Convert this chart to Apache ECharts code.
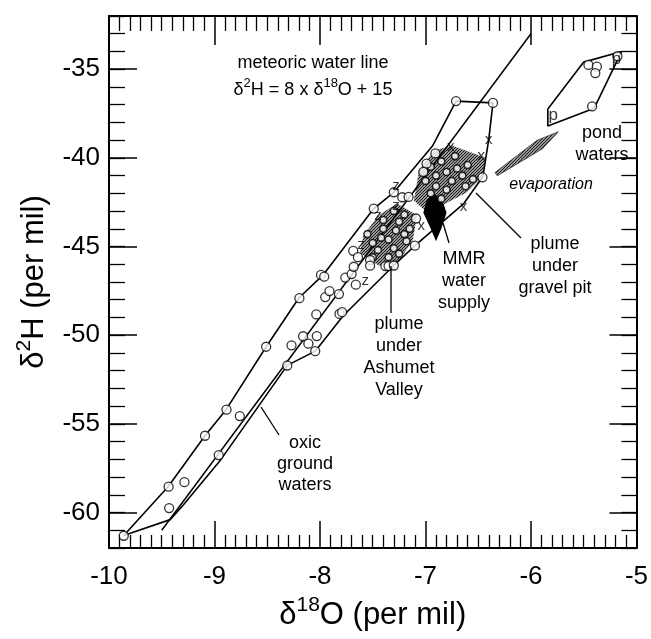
<!DOCTYPE html>
<html><head><meta charset="utf-8">
<script src="https://cdn.jsdelivr.net/npm/echarts@6/dist/echarts.min.js"></script>
<style>html,body{margin:0;padding:0;background:#fff}#c{width:651px;height:639px}</style>
</head><body><div id="c"></div>
<script>
// ---------- data (delta18O / delta2H in per mil) ----------
const xTicks = [-10, -9, -8, -7, -6, -5];
const yTicks = [-60, -55, -50, -45, -40, -35];

// meteoric water line  d2H = 8 x d18O + 15  (drawn segment end points)
const mwlX = [-9.5, -6.0];
const mwlY = [-61, -33];

// outline of the "oxic ground waters" field
const oxicField = [
  [-9.86,-61.3],[-9.44,-58.55],[-9.09,-55.67],[-8.89,-54.2],[-8.51,-50.65],[-8.20,-47.9],
  [-7.97,-46.6],[-7.49,-42.86],[-7.30,-41.94],[-6.93,-39.3],[-6.71,-36.8],[-6.36,-36.9],
  [-6.40,-38.96],[-6.455,-41.05],[-6.64,-42.6],[-7.10,-44.95],[-7.30,-46.07],[-7.78,-48.9],
  [-8.045,-50.9],[-8.31,-51.7],[-8.95,-57.1],[-9.30,-59.6],[-9.42,-60.4],[-9.86,-61.3]
];
// outline of the "pond waters" field
const pondField = [[-5.84,-37.25],[-5.50,-34.6],[-5.14,-34.0],[-5.40,-37.2],[-5.84,-38.2],[-5.84,-37.25]];

// shaded plume fields
const gravelPitField = [[-6.92,-39.6],[-6.75,-39.3],[-6.43,-40.0],[-6.455,-41.05],[-6.61,-41.95],[-6.80,-42.55],[-6.98,-43.1],[-7.11,-42.4],[-7.06,-40.7]];
const ashumetField = [[-7.27,-42.57],[-7.08,-43.23],[-7.12,-44.64],[-7.26,-45.88],[-7.445,-46.07],[-7.62,-45.36],[-7.59,-44.4],[-7.45,-43.26]];
const mmrField = [[-6.92,-42.0],[-6.84,-42.4],[-6.80,-43.1],[-6.85,-44.0],[-6.90,-44.7],[-6.95,-44.0],[-7.02,-43.1],[-6.99,-42.4]];

// evaporation trend (arrow start -> end)
const evapX = [-6.33, -5.74];
const evapY = [-40.92, -38.53];

// oxic ground water samples (open circles)
const oxicSamples = [
  [-9.86,-61.31],[-9.435,-58.54],[-9.285,-58.29],[-9.43,-59.75],[-9.09,-55.67],[-8.96,-56.76],
  [-8.886,-54.2],[-8.76,-54.56],[-8.51,-50.65],[-8.27,-50.57],[-8.31,-51.71],[-8.16,-50.06],
  [-8.11,-50.48],[-8.03,-50.05],[-8.045,-50.9],[-8.035,-48.83],[-8.195,-47.91],[-7.95,-47.85],
  [-7.91,-47.51],[-7.82,-47.68],[-7.815,-48.8],[-7.79,-48.7],[-7.99,-46.6],[-7.96,-46.7],
  [-7.76,-46.75],[-7.70,-46.55],[-7.68,-46.14],[-7.66,-47.15],[-7.685,-45.24],[-7.64,-45.6],
  [-7.525,-45.76],[-7.525,-46.08],[-7.38,-46.1],[-7.35,-46.1],[-7.30,-46.07],[-7.49,-42.86],
  [-7.30,-41.94],[-7.22,-42.22],[-7.16,-42.2],[-7.10,-44.95],[-7.09,-43.42],[-6.71,-36.8],
  [-6.36,-36.9],[-6.906,-39.75],[-6.99,-40.32],[-7.02,-40.79],[-6.46,-41.1]
];
// samples inside the plume clusters (estimated)
const plumeSamples = [
  [-7.55,-44.3],[-7.5,-44.8],[-7.45,-45.2],[-7.4,-44.0],[-7.35,-44.6],[-7.3,-45.1],[-7.25,-43.6],
  [-7.2,-44.3],[-7.4,-43.5],[-7.3,-43.0],[-7.2,-43.2],[-7.15,-44.0],[-7.35,-45.6],[-7.5,-45.6],
  [-7.28,-44.1],[-7.42,-44.5],[-7.18,-44.7],[-7.25,-45.4],
  [-6.95,-40.5],[-6.9,-41.0],[-6.85,-40.2],[-6.8,-40.8],[-6.75,-41.3],[-6.7,-40.6],[-6.65,-41.0],
  [-6.6,-40.4],[-6.55,-41.2],[-6.8,-41.8],[-6.9,-41.6],[-7.0,-41.3],[-6.72,-39.9],[-6.62,-41.6],
  [-6.95,-42.0],[-6.85,-42.3]
];
// pond water samples
const pondSamples = [[-5.18,-34.27],[-5.455,-34.76],[-5.375,-34.85],[-5.39,-35.22],[-5.42,-37.1]];
// letter-coded samples
const xSamples = [[-6.40,-38.96],[-6.47,-39.9],[-6.76,-39.37],[-6.64,-42.76],[-7.04,-43.85]];
const zSamples = [[-7.28,-41.57],[-7.28,-42.72],[-7.45,-43.26],[-7.61,-44.93],[-7.57,-46.95]];
const pSamples = [[-5.79,-37.6],[-5.19,-34.45]];

// ---------- rendering ----------
const FONT = 'Liberation Sans, Arial, Helvetica, sans-serif';
function hatchCanvas(color, gap, lw) {
  const c = document.createElement('canvas');
  c.width = gap; c.height = gap;
  const g = c.getContext('2d');
  g.strokeStyle = color; g.lineWidth = lw;
  g.beginPath();
  g.moveTo(0, gap); g.lineTo(gap, 0);
  g.moveTo(-1, 1); g.lineTo(1, -1);
  g.moveTo(gap - 1, gap + 1); g.lineTo(gap + 1, gap - 1);
  g.stroke();
  return c;
}
const hatchGray = { image: hatchCanvas('#1a1a1a', 3, 1.3), repeat: 'repeat' };
const hatchDark = { image: hatchCanvas('#000', 2, 1.6), repeat: 'repeat' };

function fieldSeries(pts, fill, z) {
  return {
    type: 'custom', coordinateSystem: 'cartesian2d', silent: true, z: z,
    data: [pts[0]],
    renderItem: (params, api) => ({
      type: 'polygon',
      shape: { points: pts.map(p => api.coord(p)) },
      style: { fill: fill, stroke: null }
    })
  };
}
function lineSeries(pts, width) {
  return { type: 'line', data: pts, symbol: 'none', silent: true, z: 4,
           lineStyle: { color: '#000', width: width } };
}
function letterSeries(pts, letter, size) {
  return { type: 'scatter', data: pts, symbol: 'circle', symbolSize: 1, z: 6, silent: true,
           itemStyle: { color: 'rgba(0,0,0,0)' },
           label: { show: true, position: 'inside', formatter: letter, fontSize: size,
                    fontFamily: FONT, color: '#000' } };
}
function circleSeries(pts, size, z, bw) {
  return { type: 'scatter', data: pts, symbol: 'circle', symbolSize: size, z: z, silent: true,
           itemStyle: { color: '#fff', borderColor: '#000', borderWidth: bw } };
}

const evapSeries = {
  type: 'custom', coordinateSystem: 'cartesian2d', silent: true, z: 3,
  data: [[evapX[0], evapY[0]]],
  renderItem: (params, api) => {
    const a = api.coord([evapX[0], evapY[0]]);
    const b = api.coord([evapX[1], evapY[1]]);
    const dx = b[0] - a[0], dy = b[1] - a[1];
    const L = Math.hypot(dx, dy), nx = -dy / L, ny = dx / L;
    const m = [a[0] + dx * 0.7, a[1] + dy * 0.7];
    const pts = [
      [a[0] + nx * 2, a[1] + ny * 2], [m[0] + nx * 5, m[1] + ny * 5], b,
      [m[0] - nx * 5, m[1] - ny * 5], [a[0] - nx * 2, a[1] - ny * 2]
    ];
    return { type: 'polygon', shape: { points: pts }, style: { fill: hatchGray, stroke: '#333', lineWidth: 0.8 } };
  }
};

const axLine = { show: true, lineStyle: { color: '#000', width: 2 } };
function xAx(pos, showLabel, major, minor) {
  return {
    type: 'value', position: pos, min: -10, max: -5, interval: 1,
    axisLine: axLine, splitLine: { show: false },
    axisTick: { show: true, inside: true, length: major, lineStyle: { color: '#000', width: 1.5 } },
    minorTick: { show: true, splitNumber: 10, length: minor, lineStyle: { color: '#000', width: 1.3 } },
    axisLabel: { show: showLabel, fontSize: 26, fontFamily: FONT, color: '#000', margin: 16 },
    name: showLabel ? '{a|δ}{s|18}{a|O (per mil)}' : '',
    nameLocation: 'middle', nameGap: 37,
    nameTextStyle: { color: '#000', fontFamily: FONT,
      rich: { a: { fontSize: 31, lineHeight: 36, verticalAlign: 'bottom', fontFamily: FONT, color: '#000' },
              s: { fontSize: 21, lineHeight: 20, verticalAlign: 'top', fontFamily: FONT, color: '#000' } } }
  };
}
function yMajor(pos, showLabel, len) {
  return {
    type: 'value', position: pos, min: -62, max: -32,
    axisLine: axLine, splitLine: { show: false },
    axisTick: { show: true, inside: true, length: len, customValues: yTicks, lineStyle: { color: '#000', width: 1.5 } },
    axisLabel: { show: showLabel, customValues: yTicks, fontSize: 26, fontFamily: FONT, color: '#000', margin: 9 },
    name: showLabel ? '{a|δ}{s|2}{a|H (per mil)}' : '',
    nameLocation: 'middle', nameGap: 59,
    nameTextStyle: { color: '#000', fontFamily: FONT,
      rich: { a: { fontSize: 31, lineHeight: 36, verticalAlign: 'bottom', fontFamily: FONT, color: '#000' },
              s: { fontSize: 21, lineHeight: 20, verticalAlign: 'top', fontFamily: FONT, color: '#000' } } }
  };
}
function yMinor(pos, len) {
  return {
    type: 'value', position: pos, min: -62, max: -32, interval: 1,
    axisLine: { show: false }, splitLine: { show: false }, axisLabel: { show: false },
    axisTick: { show: true, inside: true, length: len, lineStyle: { color: '#000', width: 1.3 } }
  };
}

function txt(x, y, text, size, extra) {
  return Object.assign({ type: 'text', x: x, y: y, silent: true, z: 10,
    style: Object.assign({ text: text, fontSize: size, fontFamily: FONT, fill: '#000',
                           align: 'center', verticalAlign: 'middle' }, extra || {}) });
}
function seg(x1, y1, x2, y2) {
  return { type: 'line', silent: true, z: 10, shape: { x1, y1, x2, y2 }, style: { stroke: '#000', lineWidth: 1.3 } };
}

const option = {
  animation: false,
  backgroundColor: '#fff',
  grid: { left: 109, right: 13, top: 16, bottom: 91, containLabel: false },
  xAxis: [xAx('bottom', true, 27, 13), xAx('top', false, 29, 15)],
  yAxis: [yMajor('left', true, 28), yMinor('left', 16), yMajor('right', false, 27), yMinor('right', 15)],
  series: [
    fieldSeries(ashumetField, hatchGray, 1),
    fieldSeries(gravelPitField, hatchGray, 1),
    fieldSeries(mmrField, hatchDark, 2),
    evapSeries,
    lineSeries(mwlX.map((x, i) => [x, mwlY[i]]), 1.5),
    lineSeries(oxicField, 1.6),
    lineSeries(pondField, 1.6),
    circleSeries(plumeSamples, 7, 5, 1.6),
    circleSeries(oxicSamples, 9, 6, 1.3),
    circleSeries(pondSamples, 9, 6, 1.3),
    letterSeries(xSamples, 'x', 15),
    letterSeries(zSamples, 'z', 15),
    letterSeries(pSamples, 'p', 17)
  ],
  graphic: [
    txt(313, 63, 'meteoric water line', 18),
    { type: 'text', x: 313, y: 88, silent: true, z: 10,
      style: { text: '{a|δ}{s|2}{a|H = 8 x δ}{s|18}{a|O + 15}', align: 'center', verticalAlign: 'middle',
               rich: { a: { fontSize: 18, lineHeight: 22, verticalAlign: 'bottom', fontFamily: FONT, fill: '#000' },
                       s: { fontSize: 13, lineHeight: 13, verticalAlign: 'top', fontFamily: FONT, fill: '#000' } } } },
    txt(602, 144, 'pond\nwaters', 18, { lineHeight: 22 }),
    txt(551, 185, 'evaporation', 16, { fontStyle: 'italic' }),
    txt(555, 266, 'plume\nunder\ngravel pit', 18, { lineHeight: 22 }),
    txt(464, 281, 'MMR\nwater\nsupply', 18, { lineHeight: 22 }),
    txt(399, 357, 'plume\nunder\nAshumet\nValley', 18, { lineHeight: 22 }),
    txt(305, 464, 'oxic\nground\nwaters', 18, { lineHeight: 21 }),
    seg(476, 193, 521, 238),
    seg(443, 223, 449, 243),
    seg(391, 266, 391, 313),
    seg(261, 407, 279, 435)
  ]
};
const chart = echarts.init(document.getElementById('c'), null, { renderer: 'canvas' });
chart.setOption(option);
</script></body></html>
